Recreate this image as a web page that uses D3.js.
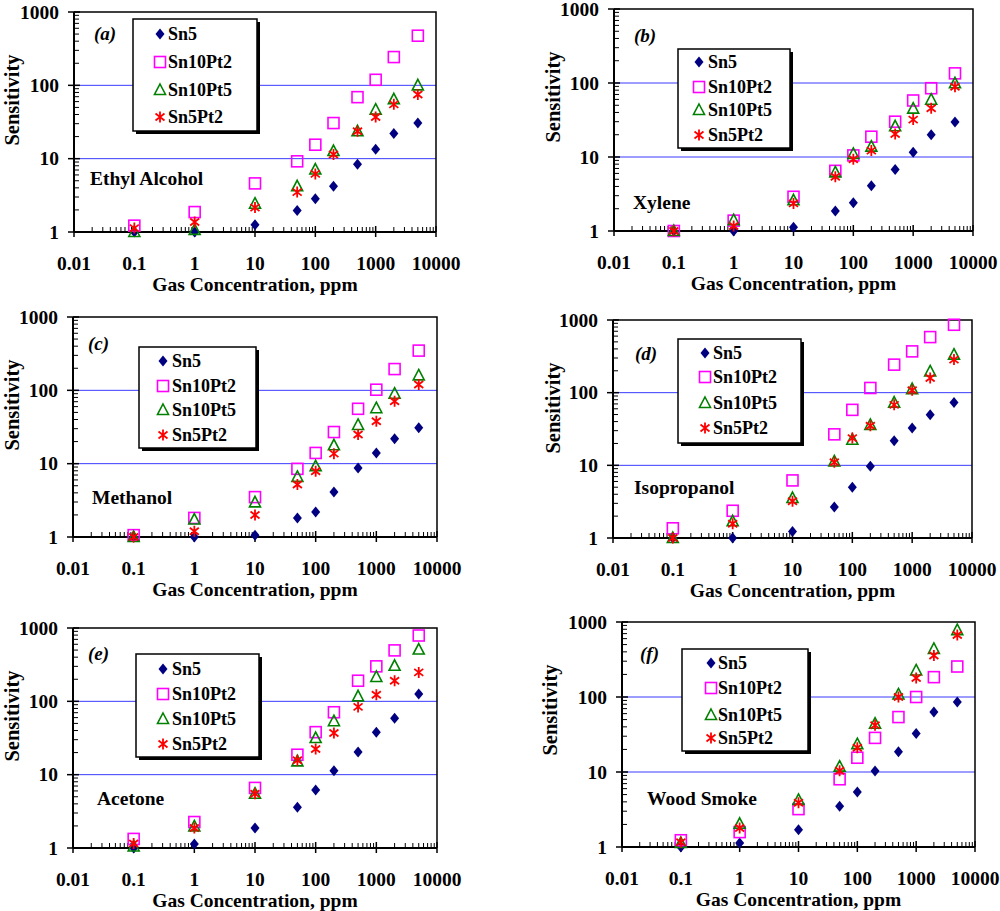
<!DOCTYPE html>
<html>
<head>
<meta charset="utf-8">
<script src="https://cdn.jsdelivr.net/npm/d3@7"></script>
<style>
  body { margin: 0; background: #fff; }
  text { font-family: "Liberation Serif", "Times New Roman", serif; font-weight: bold; }
</style>
</head>
<body>
<svg id="chart" width="1000" height="911"></svg>
<script>
// data
var concentrations = [0.1, 1, 10, 50, 100, 200, 500, 1000, 2000, 5000];
var seriesNames = ["Sn5", "Sn10Pt2", "Sn10Pt5", "Sn5Pt2"];
var xTickValues = [0.01, 0.1, 1, 10, 100, 1000, 10000];
var xTickLabels = ["0.01", "0.1", "1", "10", "100", "1000", "10000"];
var yTickValues = [1, 10, 100, 1000];
var yTickLabels = ["1", "10", "100", "1000"];
var panelLetters = ["(a)", "(b)", "(c)", "(d)", "(e)", "(f)"];
var gasNames = ["Ethyl Alcohol", "Xylene", "Methanol", "Isopropanol", "Acetone", "Wood Smoke"];

// one row per series: Sn5, Sn10Pt2, Sn10Pt5, Sn5Pt2
var ethylAlcohol = [
    [1.0, 1.0, 1.26, 1.97, 2.85, 4.2, 8.4, 13.4, 22, 30.6],
    [1.22, 1.87, 4.6, 9.2, 15.5, 30.6, 69, 119, 243, 475],
    [1.0, 1.07, 2.43, 4.2, 7.1, 12.7, 23.6, 46.6, 64.5, 100],
    [1.13, 1.37, 2.15, 3.5, 6.2, 11.4, 23.6, 37, 55, 75]
];
var xylene = [
    [1.0, 1.0, 1.12, 1.86, 2.4, 4.1, 6.8, 11.6, 20, 29.7],
    [1.0, 1.38, 2.9, 6.5, 10.5, 18.8, 30, 58, 85, 135],
    [1.0, 1.4, 2.6, 6.2, 11, 13.8, 26, 45, 59.5, 99],
    [1.0, 1.17, 2.36, 5.4, 9.3, 12.2, 20.5, 32, 45.5, 89]
];
var methanol = [
    [1.0, 1.0, 1.06, 1.82, 2.2, 4.1, 8.7, 14, 21.8, 31],
    [1.06, 1.82, 3.5, 8.5, 14, 27, 56, 102, 195, 348],
    [1.0, 1.73, 2.97, 6.6, 9.2, 17.8, 33.7, 57, 90, 160],
    [1.0, 1.2, 2.0, 5.2, 7.9, 13.7, 25, 37.8, 71, 120]
];
var isopropanol = [
    [1.0, 1.0, 1.23, 2.67, 5.0, 9.7, 21.8, 32.6, 49.7, 73],
    [1.36, 2.37, 6.2, 26.7, 58, 116, 243, 370, 582, 860],
    [1.0, 1.7, 3.55, 11.3, 22.5, 36, 73, 112, 196, 334],
    [1.0, 1.57, 3.2, 11, 23.7, 35, 68, 108, 159, 285]
];
var acetone = [
    [1.0, 1.13, 1.87, 3.6, 6.2, 11.3, 20.4, 37.8, 59, 126],
    [1.33, 2.26, 6.6, 18.7, 38, 71, 191, 300, 495, 790],
    [1.05, 1.97, 5.5, 15.2, 31.6, 53.6, 117, 215, 305, 508],
    [1.15, 1.87, 5.5, 15.7, 22.4, 37, 84, 123, 191, 248]
];
var woodSmoke = [
    [1.0, 1.13, 1.7, 3.5, 5.4, 10.3, 18.6, 32.6, 63, 86],
    [1.23, 1.58, 3.2, 8.0, 15.5, 28.5, 54, 100, 184, 255],
    [1.13, 2.04, 4.25, 11.8, 23.5, 44, 108, 226, 437, 780],
    [1.16, 1.79, 3.9, 10.4, 21, 42, 100, 179, 358, 670]
];
var panelData = [ethylAlcohol, xylene, methanol, isopropanol, acetone, woodSmoke];

var colors = ["#000080", "#ff00ff", "#008000", "#ff0000"];

// where each panel sits on the page
var layout = [
    {left: 74, right: 436, top: 12, bottom: 232, legend: [133, 19, 124, 112], rows: [34, 62, 90, 117], markX: 160, textX: 168, letter: [94, 33], gas: [90, 178], ylabX: 12},
    {left: 614, right: 973, top: 9, bottom: 231, legend: [678, 49, 112, 99], rows: [62, 87, 110, 135], markX: 699, textX: 708, letter: [634, 35], gas: [633, 202], ylabX: 553},
    {left: 73, right: 437, top: 317, bottom: 537, legend: [139, 347, 117, 101], rows: [361, 386, 410, 435], markX: 163, textX: 172, letter: [88, 343], gas: [92, 497], ylabX: 12},
    {left: 613, right: 972, top: 320, bottom: 538, legend: [678, 339, 123, 104], rows: [353, 377, 403, 428], markX: 705, textX: 713, letter: [635, 353], gas: [634, 487], ylabX: 553},
    {left: 73, right: 437, top: 628, bottom: 848, legend: [136, 654, 123, 103], rows: [669, 694, 719, 744], markX: 163, textX: 172, letter: [88, 653], gas: [97, 798], ylabX: 12},
    {left: 622, right: 975, top: 622, bottom: 847, legend: [682, 649, 126, 102], rows: [663, 688, 715, 738], markX: 711, textX: 718, letter: [640, 653], gas: [647, 798], ylabX: 550}
];

var svg = d3.select("#chart");
svg.append("rect").attr("width", 1000).attr("height", 911).attr("fill", "#fff");

function drawMarker(g, k, x, y) {
    var m = g.append("g").attr("transform", "translate(" + x + "," + y + ")");
    if (k === 0) {
        m.append("path").attr("d", "M0,-5.5L4.5,0L0,5.5L-4.5,0Z").attr("fill", colors[0]);
    } else if (k === 1) {
        m.append("rect").attr("x", -5.5).attr("y", -5.5).attr("width", 11).attr("height", 11)
            .attr("fill", "none").attr("stroke", colors[1]).attr("stroke-width", 1.6);
    } else if (k === 2) {
        m.append("path").attr("d", "M0,-6L5.5,4.5L-5.5,4.5Z")
            .attr("fill", "none").attr("stroke", colors[2]).attr("stroke-width", 1.6);
    } else {
        m.append("path").attr("d", "M-4.5,-3.5L4.5,3.5M4.5,-3.5L-4.5,3.5M0,-5.5L0,5.5")
            .attr("fill", "none").attr("stroke", colors[3]).attr("stroke-width", 1.8);
    }
}

function drawPanel(p, i) {
    var data = panelData[i];
    var g = svg.append("g");

    var x = d3.scaleLog().domain([0.01, 10000]).range([p.left, p.right]);
    var y = d3.scaleLog().domain([1, 1000]).range([p.bottom, p.top]);

    // grid lines at 10 and 100
    g.selectAll(".grid").data([10, 100]).enter().append("line")
        .attr("x1", p.left).attr("x2", p.right)
        .attr("y1", d => y(d)).attr("y2", d => y(d))
        .attr("stroke", "#3a3aff").attr("stroke-width", 1);

    // frame top and right
    g.append("path")
        .attr("d", "M" + p.left + "," + p.top + "H" + p.right + "V" + p.bottom)
        .attr("fill", "none").attr("stroke", "#000").attr("stroke-width", 1.5);

    // minor ticks
    var xMinor = [], yMinor = [];
    for (var d = 0.01; d < 10000; d *= 10) {
        for (var m = 2; m <= 9; m++) xMinor.push(d * m);
    }
    for (var e = 1; e < 1000; e *= 10) {
        for (var n = 2; n <= 9; n++) yMinor.push(e * n);
    }

    g.selectAll(".xminor").data(xMinor).enter().append("line")
        .attr("x1", d => x(d)).attr("x2", d => x(d))
        .attr("y1", p.bottom).attr("y2", p.bottom - 5)
        .attr("stroke", "#000").attr("stroke-width", 1);
    g.selectAll(".yminor").data(yMinor).enter().append("line")
        .attr("x1", p.left).attr("x2", p.left + 5)
        .attr("y1", d => y(d)).attr("y2", d => y(d))
        .attr("stroke", "#000").attr("stroke-width", 1);

    // major ticks
    g.selectAll(".xmajor").data(xTickValues).enter().append("line")
        .attr("x1", d => x(d)).attr("x2", d => x(d))
        .attr("y1", p.bottom - 6).attr("y2", p.bottom + 5)
        .attr("stroke", "#000").attr("stroke-width", 1.5);
    g.selectAll(".ymajor").data(yTickValues).enter().append("line")
        .attr("x1", p.left - 6).attr("x2", p.left + 6)
        .attr("y1", d => y(d)).attr("y2", d => y(d))
        .attr("stroke", "#000").attr("stroke-width", 1.5);

    // axis lines
    g.append("line").attr("x1", p.left).attr("x2", p.right).attr("y1", p.bottom).attr("y2", p.bottom)
        .attr("stroke", "#000").attr("stroke-width", 2);
    g.append("line").attr("x1", p.left).attr("x2", p.left).attr("y1", p.top).attr("y2", p.bottom)
        .attr("stroke", "#000").attr("stroke-width", 2);

    // tick labels
    g.selectAll(".xlab").data(xTickValues).enter().append("text")
        .attr("x", d => x(d)).attr("y", p.bottom + 38)
        .attr("text-anchor", "middle").attr("font-size", 19.5)
        .text((d, j) => xTickLabels[j]);
    g.selectAll(".ylab").data(yTickValues).enter().append("text")
        .attr("x", p.left - 15).attr("y", d => y(d)).attr("dy", "0.35em")
        .attr("text-anchor", "end").attr("font-size", 19.5)
        .text((d, j) => yTickLabels[j]);

    // axis titles
    g.append("text")
        .attr("x", (p.left + p.right) / 2).attr("y", p.bottom + 59)
        .attr("text-anchor", "middle").attr("font-size", 19.5)
        .text("Gas Concentration, ppm");
    g.append("text")
        .attr("transform", "translate(" + p.ylabX + "," + (p.top + 88) + ") rotate(-90)")
        .attr("dy", "0.35em").attr("text-anchor", "middle").attr("font-size", 20.5)
        .text("Sensitivity");

    // panel letter and gas name
    g.append("text").attr("x", p.letter[0]).attr("y", p.letter[1]).attr("dy", "0.35em")
        .attr("font-size", 19).attr("font-style", "italic").text(panelLetters[i]);
    g.append("text").attr("x", p.gas[0]).attr("y", p.gas[1]).attr("dy", "0.35em")
        .attr("font-size", 19.5).text(gasNames[i]);

    // points
    data.forEach(function(vals, k) {
        var sg = g.append("g");
        vals.forEach(function(v, j) {
            drawMarker(sg, k, x(concentrations[j]), y(v));
        });
    });

    // legend
    var L = p.legend;
    g.append("rect").attr("x", L[0] + 3).attr("y", L[1] + 3).attr("width", L[2]).attr("height", L[3])
        .attr("fill", "#000");
    g.append("rect").attr("x", L[0]).attr("y", L[1]).attr("width", L[2]).attr("height", L[3])
        .attr("fill", "#fff").attr("stroke", "#000").attr("stroke-width", 1.5);
    seriesNames.forEach(function(name, k) {
        drawMarker(g, k, p.markX, p.rows[k]);
        g.append("text").attr("x", p.textX).attr("y", p.rows[k]).attr("dy", "0.35em")
            .attr("font-size", 18).text(name);
    });
}

layout.forEach(drawPanel);
</script>
</body>
</html>
